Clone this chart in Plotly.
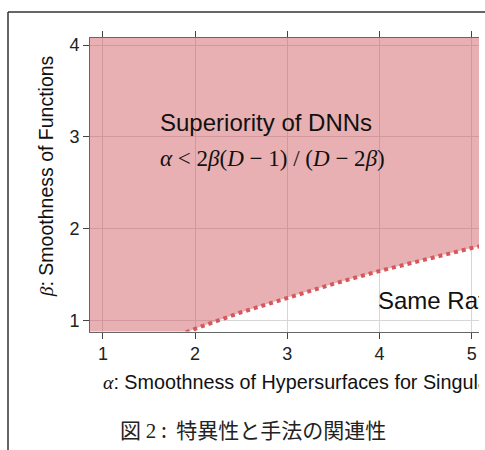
import plotly.graph_objects as go

# ---- data ----
alpha_boundary = [1.90, 2.00, 2.50, 3.00, 3.50, 4.00, 4.50, 5.00, 5.20]
beta_boundary = [0.87, 0.91, 1.09, 1.25, 1.40, 1.54, 1.67, 1.79, 1.83]
x_ticks = [1, 2, 3, 4, 5]
y_ticks = [1, 2, 3, 4]
x_range = [0.86, 5.08]
y_range = [0.88, 4.08]

region_label = "Superiority of DNNs"
region_formula = "<i>α</i> &lt; 2<i>β</i>(<i>D</i> − 1) / (<i>D</i> − 2<i>β</i>)"
lower_label = "Same Rate"
x_title = "<span style='font-family:Liberation Serif'><i>α</i></span>: Smoothness of Hypersurfaces for Singularities"
y_title = "<span style='font-family:Liberation Serif'><i>β</i></span>: Smoothness of Functions"
caption = "図 <span style='font-family:Liberation Serif'>2</span> :  特異性と手法の関連性"

# ---- layout geometry (pixels) ----
W, H = 485, 450
PL, PR, PT, PB = 90, 479, 36, 331
SANS = "Liberation Sans, Arial, sans-serif"
SERIF = "Liberation Serif, Times New Roman, serif"

fig = go.Figure()

# shaded region above the boundary
pad = 0.6
fill_x = [alpha_boundary[0]] + alpha_boundary + [alpha_boundary[-1], x_range[0] - pad, x_range[0] - pad]
fill_y = [y_range[0] - pad] + beta_boundary + [y_range[1] + pad, y_range[1] + pad, y_range[0] - pad]
fig.add_trace(go.Scatter(
    x=fill_x, y=fill_y, mode="lines", fill="toself",
    fillcolor="rgba(205,80,85,0.45)", line=dict(width=0),
    hoverinfo="skip", xaxis="x", yaxis="y"))

# dotted boundary
fig.add_trace(go.Scatter(
    x=alpha_boundary, y=beta_boundary, mode="lines",
    line=dict(color="rgb(214,88,92)", width=4, dash="dot"),
    hoverinfo="skip", xaxis="x", yaxis="y"))

# texts cut at the right image edge (overlay pixel subplot, clipped)
fig.add_trace(go.Scatter(
    x=[378, 103], y=[302, 384], mode="text",
    text=[lower_label, x_title],
    textposition="middle right",
    textfont=dict(family=SANS, size=[24, 19.75], color="#111"),
    cliponaxis=True, hoverinfo="skip", xaxis="x2", yaxis="y2"))

axis_common = dict(
    showgrid=True, gridcolor="#d6d6d6", gridwidth=1, zeroline=False,
    ticks="outside", ticklen=6, tickwidth=1, tickcolor="#444",
    showline=True, linecolor="#666", linewidth=1,
    tickfont=dict(family=SANS, size=18, color="#222"),
    fixedrange=True,
)

fig.update_layout(
    width=W, height=H, autosize=False,
    margin=dict(l=0, r=0, t=0, b=0, pad=0),
    paper_bgcolor="white", plot_bgcolor="rgba(0,0,0,0)",
    showlegend=False, hovermode=False,
    xaxis=dict(domain=[PL / W, PR / W], range=x_range, tickvals=x_ticks,
               mirror="ticks", anchor="y", **axis_common),
    yaxis=dict(domain=[1 - PB / H, 1 - PT / H], range=y_range, tickvals=y_ticks,
               mirror=False, anchor="x", **axis_common),
    xaxis2=dict(domain=[0, PR / W], range=[0, PR], visible=False, anchor="y2", fixedrange=True),
    yaxis2=dict(domain=[0, 1], range=[H, 0], visible=False, anchor="x2", fixedrange=True),
)

annotations = [
    dict(text=region_label, x=1.6, y=3.16, xref="x", yref="y", xanchor="left", yanchor="middle",
         showarrow=False, font=dict(family=SANS, size=24, color="#111")),
    dict(text=region_formula, x=1.6, y=2.76, xref="x", yref="y", xanchor="left", yanchor="middle",
         showarrow=False, font=dict(family=SERIF, size=23, color="#111")),
    dict(text=y_title, x=46 / W, y=1 - 175 / H, xref="paper", yref="paper",
         xanchor="center", yanchor="middle", textangle=-90, showarrow=False,
         font=dict(family=SANS, size=19.5, color="#111")),
    dict(text=caption, x=253 / W, y=1 - 429 / H, xref="paper", yref="paper",
         xanchor="center", yanchor="middle", showarrow=False,
         font=dict(family="Noto Sans CJK JP", size=21, color="#222")),
]
fig.update_layout(annotations=annotations)

# document frame lines
fig.add_shape(type="line", xref="paper", yref="paper", x0=8 / W, x1=1, y0=1 - 10 / H, y1=1 - 10 / H,
              line=dict(color="#333", width=1.5), layer="above")
fig.add_shape(type="line", xref="paper", yref="paper", x0=8 / W, x1=8 / W, y0=0, y1=1 - 10 / H,
              line=dict(color="#333", width=1.5), layer="above")

fig.write_html("out.html")
